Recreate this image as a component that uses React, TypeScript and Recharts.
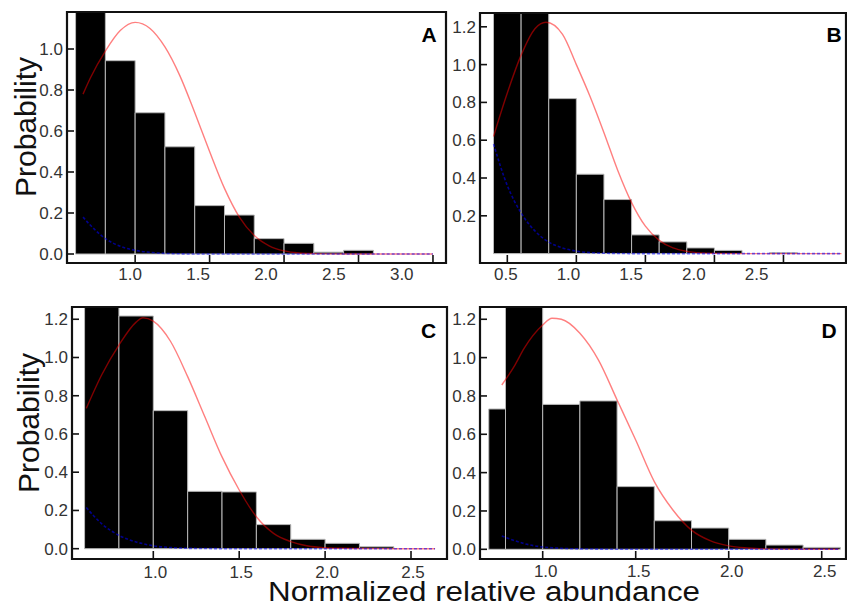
import React from "react";
import { ComposedChart, XAxis, YAxis, Line, ReferenceArea } from "recharts";

// ---------- Data ----------
// Panel A
const A_EDGES = [0.6, 0.8, 1.0, 1.2, 1.4, 1.6, 1.8, 2.0, 2.2, 2.4, 2.6];
const A_HEIGHTS = [1.45, 0.943, 0.689, 0.523, 0.236, 0.19, 0.075, 0.052, 0.009, 0.018];
const A_CURVE_X = [0.65, 0.7, 0.8, 0.9, 1.0, 1.1, 1.2, 1.3, 1.4, 1.5, 1.6, 1.7, 1.8, 1.9, 2.0, 2.1, 2.2, 2.4, 2.6, 2.8, 3.0];
const A_RED = [0.78, 0.86, 0.99, 1.09, 1.13, 1.1, 1.01, 0.87, 0.69, 0.5, 0.32, 0.18, 0.09, 0.04, 0.015, 0.005, 0.002, 0, 0, 0, 0];
const A_BLUE = [0.18, 0.14, 0.075, 0.038, 0.018, 0.008, 0.003, 0.001, 0, 0, 0, 0, 0, 0, 0, 0, 0, 0, 0, 0, 0];
const A_X_TICKS = [1.0, 1.5, 2.0, 2.5, 3.0];
const A_Y_TICKS = [0, 0.2, 0.4, 0.6, 0.8, 1.0];

// Panel B
const B_EDGES = [0.4, 0.6, 0.8, 1.0, 1.2, 1.4, 1.6, 1.8, 2.0, 2.2, 2.4, 2.6];
const B_HEIGHTS = [1.5, 1.4, 0.82, 0.42, 0.286, 0.099, 0.062, 0.03, 0.017, 0, 0.005];
const B_CURVE_X = [0.4, 0.5, 0.6, 0.7, 0.78, 0.9, 1.0, 1.1, 1.2, 1.3, 1.4, 1.5, 1.6, 1.7, 1.8, 1.9, 2.0, 2.2, 2.4, 2.6, 2.8, 2.92];
const B_RED = [0.62, 0.85, 1.05, 1.19, 1.224, 1.16, 1.0, 0.83, 0.64, 0.44, 0.27, 0.145, 0.07, 0.03, 0.012, 0.004, 0.001, 0, 0, 0, 0, 0];
const B_BLUE = [0.58, 0.36, 0.215, 0.12, 0.07, 0.03, 0.013, 0.005, 0.002, 0.001, 0, 0, 0, 0, 0, 0, 0, 0, 0, 0, 0, 0];
const B_X_TICKS = [0.5, 1.0, 1.5, 2.0, 2.5];
const B_Y_TICKS = [0.2, 0.4, 0.6, 0.8, 1.0, 1.2];

// Panel C
const C_EDGES = [0.6, 0.8, 1.0, 1.2, 1.4, 1.6, 1.8, 2.0, 2.2, 2.4];
const C_HEIGHTS = [1.45, 1.217, 0.722, 0.3, 0.297, 0.126, 0.049, 0.028, 0.01];
const C_CURVE_X = [0.61, 0.7, 0.8, 0.9, 0.94, 1.0, 1.1, 1.2, 1.3, 1.4, 1.5, 1.6, 1.7, 1.8, 1.9, 2.0, 2.1, 2.2, 2.4, 2.64];
const C_RED = [0.734, 0.91, 1.065, 1.185, 1.208, 1.19, 1.085, 0.9, 0.69, 0.48, 0.307, 0.167, 0.08, 0.037, 0.014, 0.005, 0.002, 0.001, 0, 0];
const C_BLUE = [0.215, 0.13, 0.07, 0.035, 0.026, 0.015, 0.006, 0.002, 0.001, 0, 0, 0, 0, 0, 0, 0, 0, 0, 0, 0];
const C_X_TICKS = [1.0, 1.5, 2.0, 2.5];
const C_Y_TICKS = [0, 0.2, 0.4, 0.6, 0.8, 1.0, 1.2];

// Panel D
const D_EDGES = [0.71, 0.8, 1.0, 1.2, 1.4, 1.6, 1.8, 2.0, 2.2, 2.4, 2.6];
const D_HEIGHTS = [0.732, 1.5, 0.756, 0.774, 0.327, 0.149, 0.111, 0.052, 0.022, 0.01];
const D_CURVE_X = [0.78, 0.85, 0.9, 1.0, 1.05, 1.1, 1.2, 1.3, 1.4, 1.5, 1.6, 1.7, 1.8, 1.9, 2.0, 2.1, 2.2, 2.4, 2.59];
const D_RED = [0.857, 0.96, 1.048, 1.17, 1.205, 1.2, 1.127, 0.987, 0.779, 0.57, 0.353, 0.205, 0.1, 0.045, 0.018, 0.007, 0.002, 0, 0];
const D_BLUE = [0.07, 0.045, 0.03, 0.012, 0.008, 0.005, 0.002, 0.001, 0, 0, 0, 0, 0, 0, 0, 0, 0, 0, 0];
const D_X_TICKS = [1.0, 1.5, 2.0, 2.5];
const D_Y_TICKS = [0, 0.2, 0.4, 0.6, 0.8, 1.0, 1.2];

const PANEL_LETTERS = ["A", "B", "C", "D"];
const Y_TITLE = "Probability";
const X_TITLE = "Normalized relative abundance";

// ---------- Helpers ----------
const FONT = "'Liberation Sans', Arial, Helvetica, sans-serif";
const toPoints = (xs: number[], ys: number[]) => xs.map((x, i) => ({ x, y: ys[i] }));
const fmt = (v: number) => v.toFixed(1);

const YW = 40;
const XH = 25;

type PanelProps = {
  left: number; top: number; width: number; height: number;
  frame: { l: number; t: number; r: number; b: number };
  xDomain: [number, number]; yDomain: [number, number];
  xTicks: number[]; yTicks: number[];
  edges: number[]; heights: number[];
  curveX: number[]; red: number[]; blue: number[];
  labelShrink: number; labelShift: number; labelDy: number;
};

function Panel(p: PanelProps) {
  const margin = {
    left: p.frame.l - p.left - YW,
    top: p.frame.t - p.top,
    right: p.left + p.width - p.frame.r,
    bottom: p.top + p.height - p.frame.b - XH,
  };
  const plotLeft = p.frame.l - p.left;
  const redData = toPoints(p.curveX, p.red);
  const blueData = toPoints(p.curveX, p.blue);

  const XTick = (props: any) => {
    const { x, y, payload } = props;
    const lx = plotLeft + (x - plotLeft) * p.labelShrink + p.labelShift;
    return (
      <g>
        <line x1={x} x2={x} y1={y} y2={y - 8} stroke="#111" strokeWidth={1.6} />
        <text x={lx} y={y + p.labelDy} textAnchor="middle" fontSize={17} fill="#333" fontFamily={FONT}>
          {fmt(payload.value)}
        </text>
      </g>
    );
  };
  const YTick = (props: any) => {
    const { x, y, payload } = props;
    return (
      <g>
        <line x1={x - 1} x2={x + 7} y1={y} y2={y} stroke="#111" strokeWidth={1.6} />
        <text x={x - 4} y={y + 6} textAnchor="end" fontSize={17} fill="#333" fontFamily={FONT}>
          {fmt(payload.value)}
        </text>
      </g>
    );
  };

  return (
    <div style={{ position: "absolute", left: p.left, top: p.top, width: p.width, height: p.height }}>
      <ComposedChart width={p.width} height={p.height} margin={margin}>
        <XAxis
          type="number"
          dataKey="x"
          domain={p.xDomain}
          allowDataOverflow
          ticks={p.xTicks}
          interval={0}
          tickSize={0}
          tickMargin={0}
          axisLine={false}
          tickLine={false}
          height={XH}
          tick={XTick}
        />
        <YAxis
          type="number"
          domain={p.yDomain}
          allowDataOverflow
          ticks={p.yTicks}
          interval={0}
          tickSize={0}
          tickMargin={0}
          axisLine={false}
          tickLine={false}
          width={YW}
          tick={YTick}
        />
        {p.heights.map((h, i) => (
          <ReferenceArea
            key={"bar" + i}
            x1={p.edges[i]}
            x2={p.edges[i + 1]}
            y1={0}
            y2={h}
            fill="#000"
            fillOpacity={1}
            stroke="#b8b8b8"
            strokeWidth={1}
            ifOverflow="hidden"
          />
        ))}
        <Line
          data={redData}
          dataKey="y"
          type="monotone"
          stroke="#ff0000"
          strokeOpacity={0.5}
          strokeWidth={1.4}
          dot={false}
          activeDot={false}
          isAnimationActive={false}
        />
        <Line
          data={blueData}
          dataKey="y"
          type="monotone"
          stroke="#0000ff"
          strokeOpacity={0.55}
          strokeWidth={1.6}
          strokeDasharray="3 2"
          dot={false}
          activeDot={false}
          isAnimationActive={false}
        />
        <ReferenceArea
          x1={p.xDomain[0]}
          x2={p.xDomain[1]}
          y1={p.yDomain[0]}
          y2={p.yDomain[1]}
          fill="none"
          fillOpacity={0}
          stroke="#111"
          strokeWidth={2.2}
          ifOverflow="visible"
        />
      </ComposedChart>
    </div>
  );
}

export default function App() {
  return (
    <div style={{ position: "absolute", left: 0, top: 0, width: 847, height: 604, background: "#fff", overflow: "hidden" }}>
      <Panel
        left={0} top={0} width={450} height={290}
        frame={{ l: 67, t: 12, r: 446, b: 263 }}
        xDomain={[0.5424, 3.0875]} yDomain={[-0.0439, 1.1805]}
        xTicks={A_X_TICKS} yTicks={A_Y_TICKS}
        edges={A_EDGES} heights={A_HEIGHTS}
        curveX={A_CURVE_X} red={A_RED} blue={A_BLUE}
        labelShrink={0.912} labelShift={1} labelDy={17}
      />
      <Panel
        left={440} top={0} width={407} height={290}
        frame={{ l: 480, t: 13, r: 846, b: 263 }}
        xDomain={[0.3022, 2.9529]} yDomain={[-0.0497, 1.273]}
        xTicks={B_X_TICKS} yTicks={B_Y_TICKS}
        edges={B_EDGES} heights={B_HEIGHTS}
        curveX={B_CURVE_X} red={B_RED} blue={B_BLUE}
        labelShrink={0.908} labelShift={1} labelDy={17}
      />
      <Panel
        left={0} top={290} width={450} height={300}
        frame={{ l: 72, t: 307, r: 447, b: 559 }}
        xDomain={[0.5268, 2.7095]} yDomain={[-0.0539, 1.2641]}
        xTicks={C_X_TICKS} yTicks={C_Y_TICKS}
        edges={C_EDGES} heights={C_HEIGHTS}
        curveX={C_CURVE_X} red={C_RED} blue={C_BLUE}
        labelShrink={1} labelShift={2} labelDy={19}
      />
      <Panel
        left={440} top={290} width={407} height={300}
        frame={{ l: 480, t: 307, r: 846, b: 559 }}
        xDomain={[0.6629, 2.6306]} yDomain={[-0.0506, 1.264]}
        xTicks={D_X_TICKS} yTicks={D_Y_TICKS}
        edges={D_EDGES} heights={D_HEIGHTS}
        curveX={D_CURVE_X} red={D_RED} blue={D_BLUE}
        labelShrink={1} labelShift={3} labelDy={18}
      />
      <svg
        width={847}
        height={604}
        style={{ position: "absolute", left: 0, top: 0, pointerEvents: "none" }}
      >
        <g fontFamily={FONT} fontWeight="bold" fontSize={21} fill="#000" textAnchor="middle">
          <text x={429} y={41.5}>{PANEL_LETTERS[0]}</text>
          <text x={834} y={41.5}>{PANEL_LETTERS[1]}</text>
          <text x={428.5} y={337.5}>{PANEL_LETTERS[2]}</text>
          <text x={829} y={338}>{PANEL_LETTERS[3]}</text>
        </g>
        <g fontFamily={FONT} fontSize={30} fill="#111" textAnchor="middle">
          <text transform="translate(35.5,127) rotate(-90)">{Y_TITLE}</text>
          <text transform="translate(38.5,423) rotate(-90)">{Y_TITLE}</text>
        </g>
        <text
          x={484}
          y={601}
          fontFamily={FONT}
          fontSize={27}
          fill="#111"
          textAnchor="middle"
          textLength={432}
          lengthAdjust="spacingAndGlyphs"
        >
          {X_TITLE}
        </text>
      </svg>
    </div>
  );
}
